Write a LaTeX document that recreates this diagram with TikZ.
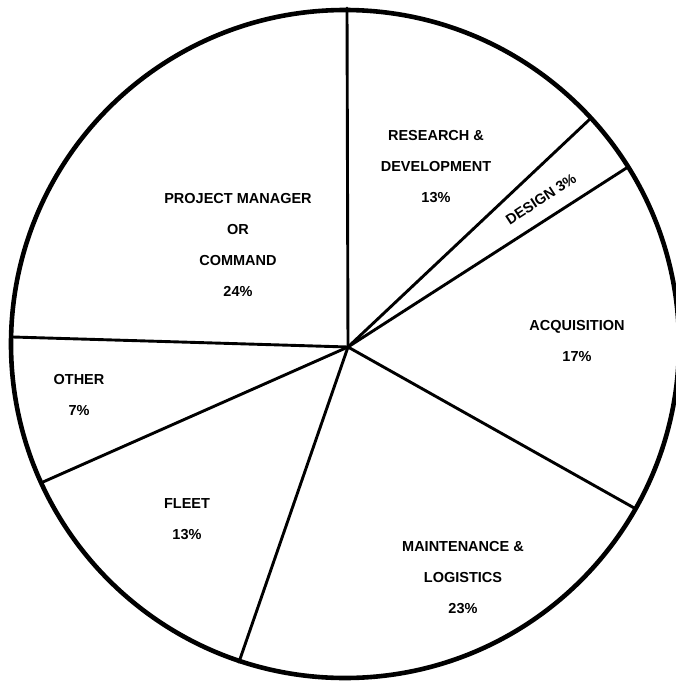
\documentclass[tikz,border=0pt]{standalone}
\usepackage{fontspec}
\setsansfont{Liberation Sans}
\usetikzlibrary{positioning}

\begin{document}
\begin{tikzpicture}[x=1pt,y=-1pt,
    rim/.style={line width=4.6pt},
    spoke/.style={line width=2.9pt, line cap=round},
    lbl/.style={font=\sffamily\bfseries\fontsize{14.5}{31}\selectfont, align=center, inner sep=0pt}]
    \useasboundingbox (0,0) rectangle (676,681);
    \fill[white] (0,0) rectangle (676,681);

    % Rim
    \coordinate (c) at (345,344);
    \draw[rim] (c) circle (334);

    % Spokes
    \coordinate (hub) at (348,347);
    \coordinate (pm-rd) at (347,8);
    \coordinate (rd-des) at (590,119);
    \coordinate (des-acq) at (628,167);
    \coordinate (acq-mnt) at (636,509);
    \coordinate (mnt-flt) at (239,662);
    \coordinate (flt-oth) at (43,482);
    \coordinate (oth-pm) at (13,337);
    \foreach \e in {pm-rd,rd-des,des-acq,acq-mnt,mnt-flt,flt-oth,oth-pm}
        \draw[spoke] (hub) -- (\e);

    % Labels
    \node[lbl] (pm) at (238,245) {PROJECT MANAGER\\OR\\COMMAND\\24\%};
    \node[lbl] (rd) at (436,167) {RESEARCH \&\\DEVELOPMENT\\13\%};
    \node[lbl, rotate=33] (des) at (541,199) {DESIGN 3\%};
    \node[lbl] (acq) at (577,341) {ACQUISITION\\17\%};
    \node[lbl] (mnt) at (463,578) {MAINTENANCE \&\\LOGISTICS\\23\%};
    \node[lbl] (flt) at (187,519) {FLEET\\13\%};
    \node[lbl] (oth) at (79,395) {OTHER\\7\%};
\end{tikzpicture}
\end{document}
